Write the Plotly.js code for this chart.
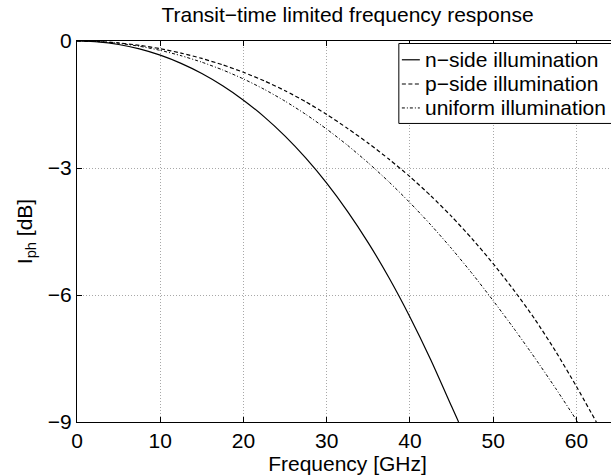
<!DOCTYPE html>
<html>
<head>
<meta charset="utf-8">
<script src="https://cdn.plot.ly/plotly-3.0.1.min.js"></script>
<style>
html, body { margin: 0; padding: 0; overflow: hidden; background: #fff; }
#chart { width: 640px; height: 475px; }
</style>
</head>
<body>
<div id="chart"></div>
<script>
// Frequency [GHz] and photocurrent response [dB]
const freqN = [0, 2.5, 5, 7.5, 10, 12.5, 15, 17.5, 20, 22.5, 25, 27.5, 30, 32.5, 35, 37.5, 40, 42.5, 45, 45.85];
const nSide = [0, -0.021, -0.083, -0.187, -0.335, -0.528, -0.768, -1.058, -1.398, -1.793, -2.248, -2.768, -3.358, -4.023, -4.768, -5.598, -6.518, -7.528, -8.628, -9.0];

const freqP = [0, 2.5, 5, 7.5, 10, 12.5, 15, 17.5, 20, 22.5, 25, 27.5, 30, 32.5, 35, 37.5, 40, 42.5, 45, 47.5, 50, 52.5, 55, 57.5, 60, 62.4];
const pSide = [0, -0.011, -0.045, -0.102, -0.182, -0.285, -0.412, -0.563, -0.739, -0.942, -1.174, -1.437, -1.734, -2.064, -2.414, -2.794, -3.204, -3.654, -4.144, -4.679, -5.259, -5.889, -6.569, -7.329, -8.159, -9.0];

const freqU = [0, 2.5, 5, 7.5, 10, 12.5, 15, 17.5, 20, 22.5, 25, 27.5, 30, 32.5, 35, 37.5, 40, 42.5, 45, 47.5, 50, 52.5, 55, 57.5, 60, 60.15];
const uniform = [0, -0.014, -0.055, -0.124, -0.221, -0.347, -0.5, -0.683, -0.896, -1.142, -1.421, -1.734, -2.081, -2.463, -2.88, -3.332, -3.819, -4.342, -4.902, -5.499, -6.133, -6.793, -7.483, -8.203, -8.953, -9.0];

const seriesNames = ['n\u2212side illumination', 'p\u2212side illumination', 'uniform illumination'];
const xTicks = [0, 10, 20, 30, 40, 50, 60];
const yTicks = [-9, -6, -3, 0];

const FONT = 'Liberation Sans, Arial, Helvetica, sans-serif';
const styles = [
  { color: '#000', width: 1.2, dash: 'solid' },
  { color: '#000', width: 1.2, dash: '4px,2.5px' },
  { color: '#000', width: 1, dash: '3px,2px,1px,2px' }
];

const xs = [freqN, freqP, freqU];
const ys = [nSide, pSide, uniform];
const traces = seriesNames.map((nm, i) => ({
  x: xs[i], y: ys[i], name: nm, mode: 'lines',
  line: Object.assign({ shape: 'spline', smoothing: 0.6 }, styles[i]),
  showlegend: false
}));

// Legend drawn in paper coordinates (MATLAB-style compact legend)
const legX0 = 0.5949, legX1 = 1.06, legY0 = 0.7836, legY1 = 0.9934;
const rowY = [0.9507, 0.8872, 0.8243];
const sampleX0 = 0.6005, sampleX1 = 0.6337, textX = 0.6392;

const shapes = [{
  type: 'rect', xref: 'paper', yref: 'paper', x0: legX0, x1: legX1, y0: legY0, y1: legY1,
  line: { color: '#000', width: 1 }, fillcolor: '#fff', layer: 'above'
}];
const annotations = [];
seriesNames.forEach((nm, i) => {
  shapes.push({ type: 'line', xref: 'paper', yref: 'paper', x0: sampleX0, x1: sampleX1, y0: rowY[i], y1: rowY[i],
    line: { color: styles[i].color, width: styles[i].width, dash: styles[i].dash }, layer: 'above' });
  annotations.push({ text: nm, xref: 'paper', yref: 'paper', x: textX, y: rowY[i], xanchor: 'left', yanchor: 'middle',
    showarrow: false, font: { family: FONT, size: 21, color: '#000' } });
});

const axisCommon = {
  showline: true, linecolor: '#000', linewidth: 1, mirror: 'ticks',
  ticks: 'inside', ticklen: 5, tickcolor: '#000', tickwidth: 1,
  showgrid: true, gridcolor: '#a8a8a8', gridwidth: 1, griddash: '1px,2px',
  zeroline: false, tickfont: { family: FONT, size: 21, color: '#000' }
};

const layout = {
  width: 640, height: 475,
  margin: { l: 77, r: 21.5, t: 40.5, b: 53.3 },
  paper_bgcolor: '#fff', plot_bgcolor: '#fff',
  font: { family: FONT, size: 21, color: '#000' },
  title: { text: 'Transit\u2212time limited frequency response', x: 0.5, xref: 'paper', xanchor: 'center',
           y: 1 - 15 / 475, yref: 'container', yanchor: 'middle',
           font: { family: FONT, size: 21, color: '#000' } },
  xaxis: Object.assign({}, axisCommon, {
    range: [0, 65], tickvals: xTicks, ticktext: xTicks.map(String),
    title: { text: 'Frequency [GHz]', standoff: 0, font: { family: FONT, size: 21, color: '#000' } }
  }),
  yaxis: Object.assign({}, axisCommon, {
    range: [-9, 0], tickvals: yTicks,
    title: { text: 'I<sub>ph</sub> [dB]', standoff: 9, font: { family: FONT, size: 21, color: '#000' } }
  }),
  showlegend: false,
  shapes: shapes,
  annotations: annotations
};

Plotly.newPlot('chart', traces, layout, { displayModeBar: false, staticPlot: true });
</script>
</body>
</html>
